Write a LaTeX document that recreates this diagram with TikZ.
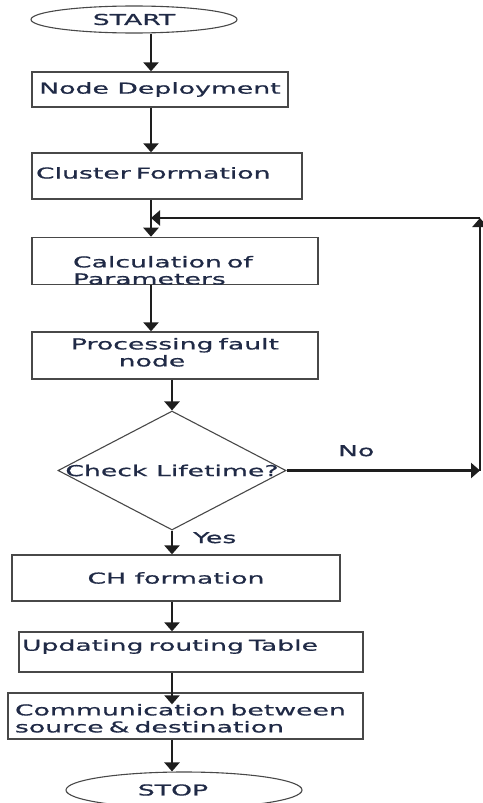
\documentclass[tikz,border=0pt]{standalone}
\usepackage{fontspec}
\newfontfamily\flowfont[FakeStretch=1.78,FakeBold=0.8]{DejaVu Sans}
\usepackage{xcolor}
\usepackage{tikz}
\usetikzlibrary{shapes,arrows.meta,positioning,calc}

\definecolor{txtblue}{RGB}{32,42,70}
\definecolor{edgegray}{RGB}{72,72,72}
\definecolor{arrblack}{RGB}{30,30,30}

\begin{document}
\begin{tikzpicture}[
    x=1pt, y=-1pt,
    every node/.style={font=\fontsize{15}{17}\selectfont\flowfont, text=txtblue},
    box/.style={rectangle, draw=edgegray, line width=1.3pt, inner sep=0pt},
    term/.style={ellipse, draw=edgegray, line width=1.1pt, inner sep=0pt},
    dec/.style={diamond, draw=edgegray, line width=1.1pt, inner sep=0pt},
    lbl/.style={inner sep=0pt},
    arr/.style={-{Triangle[width=15pt,length=9pt]}, line width=2.4pt, draw=arrblack}
]
    \useasboundingbox (0,0) rectangle (482,803);

    \node [term, minimum width=206pt, minimum height=27pt] (start) at (134,19.5) {START};
    \node [box, minimum width=256pt, minimum height=35pt] (deploy) at (160,89.5) {Node Deployment};
    \node [box, minimum width=270pt, minimum height=46pt, inner xsep=4pt, text width=262pt, align=left, text height=11pt, text depth=6pt] (cluster) at (167,176) {Cluster Formation};
    \node [box, minimum width=286pt, minimum height=46pt, inner xsep=41pt, text width=204pt, align=left, text height=30pt] (calc) at (175,261) {Calculation of\\Parameters};
    \node [box, minimum width=286pt, minimum height=47pt, text width=286pt, align=center, text height=5pt] (proc) at (175,355.5) {Processing fault\hspace*{46pt}\\node\hspace*{46pt}};
    \node [dec, minimum width=228pt, minimum height=119pt] (check) at (172,470.5) {\makebox[0pt]{Check Lifetime?}};
    \node [box, minimum width=328pt, minimum height=46pt] (ch) at (176,578) {CH formation};
    \node [box, minimum width=344pt, minimum height=40pt, inner xsep=3pt, text width=338pt, align=left, text depth=14pt] (upd) at (191,652) {Updating routing Table};
    \node [box, minimum width=355pt, minimum height=46pt, inner xsep=7pt, text width=341pt, align=left, text height=16pt] (comm) at (185.5,716) {Communication between\\source \& destination};
    \node [term, minimum width=236pt, minimum height=36pt] (stop) at (184,790) {STOP\hspace*{22pt}};

    % columns for the straight arrows and the loop back
    \coordinate (colA) at (151,0);
    \coordinate (loopTop) at (480,218);

    \draw [arr] (start.south -| colA) -- (deploy.north -| colA);
    \draw [arr] (deploy.south -| colA) -- (cluster.north -| colA);
    \draw [arr] (cluster.south -| colA) -- (calc.north -| colA);
    \draw [arr] (calc.south -| colA) -- (proc.north -| colA);
    \draw [arr] (proc.south -| check.north) -- (check.north);
    \draw [arr] (check.south) -- (ch.north -| check.south) node [lbl, pos=0.3, right=20pt] (yes) {Yes};
    \draw [arr] (ch.south -| check.south) -- (upd.north -| check.south);
    \draw [arr] (upd.south -| check.south) -- ($(comm.north -| check.south)+(0,12)$);
    \draw [arr] (comm.south -| check.south) -- (stop.north -| check.south);

    % no branch
    \draw [arr] (check.east) -- (check.east -| loopTop) node [lbl, pos=0.36, above=13pt] (no) {No};
    \draw [arr] (check.east -| loopTop) -- (loopTop);
    \draw [arr] (loopTop) -- (loopTop -| colA);
\end{tikzpicture}
\end{document}
